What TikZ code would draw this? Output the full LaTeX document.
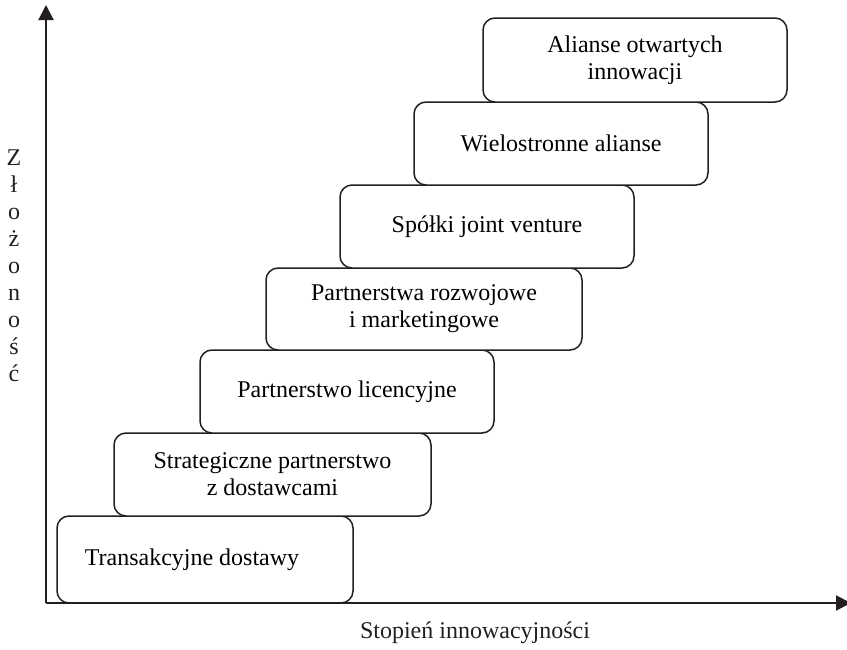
\documentclass[tikz,border=0pt]{standalone}
\usepackage{fontspec}
\setmainfont{Liberation Serif}
\usepackage{tikz}
\usepackage{xcolor}
\usetikzlibrary{arrows.meta, positioning, calc}
\definecolor{inkBlack}{RGB}{35,31,32}
\tikzset{
    stepbox/.style={
        rectangle,
        draw=inkBlack,
        line width=0.75pt,
        rounded corners=6pt,
        align=center,
        fill=white,
        anchor=south west,
        outer sep=0pt,
        minimum width=147pt,
        minimum height=41.5pt,
        font=\fontsize{12}{13.5}\selectfont
    },
    axisarrow/.style={-{Triangle[length=7.5pt, width=7.5pt]}, line width=1pt, draw=inkBlack},
    axislabel/.style={align=center, text=inkBlack, font=\fontsize{12}{13.5}\selectfont}
}

\begin{document}
\begin{tikzpicture}[x=0.5pt, y=-0.5pt]
        \useasboundingbox (0,0) rectangle (847,649);
        \coordinate (origin) at (46,603);
        \coordinate (ytop) at (46,5);
        \coordinate (xend) at (851,603);
        \node[stepbox, minimum width=148pt, minimum height=43.5pt] (supply) at (57,603) {\hspace*{-13pt}Transakcyjne dostawy};
        \node[stepbox, minimum width=158.5pt] (strategic) at ([xshift=28.5pt]supply.north west) {Strategiczne partnerstwo\\z dostawcami};
        \node[stepbox] (licence) at ([xshift=43pt]strategic.north west) {Partnerstwo licencyjne};
        \node[stepbox, minimum width=158pt, minimum height=41pt] (devmark) at ([xshift=33pt]licence.north west) {Partnerstwa rozwojowe\\i marketingowe};
        \node[stepbox] (jointv) at ([xshift=37pt]devmark.north west) {Spółki joint venture};
        \node[stepbox] (multi) at ([xshift=37pt]jointv.north west) {Wielostronne alianse};
        \node[stepbox, minimum width=152pt, minimum height=42pt] (openinn) at ([xshift=34.5pt]multi.north west) {Alianse otwartych\\innowacji};
        \draw[axisarrow] (origin) -- (ytop);
        \draw[axisarrow] (origin) -- (xend);
        \node[axislabel] (xlabel) at (475,633) {Stopień innowacyjności};
        \node[axislabel] (ylabel) at (14,266) {Z\\ł\\o\\ż\\o\\n\\o\\ś\\ć};
    \end{tikzpicture}
\end{document}
